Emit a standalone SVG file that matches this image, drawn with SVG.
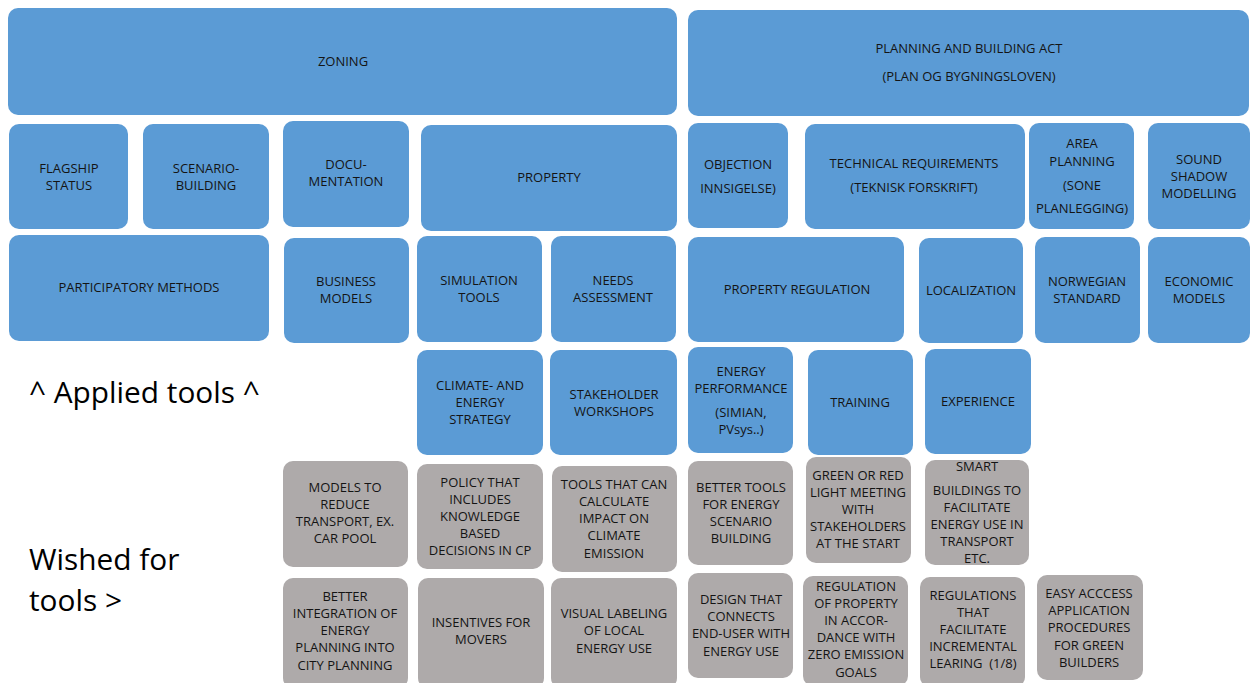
<svg xmlns="http://www.w3.org/2000/svg" width="1250" height="683" viewBox="0 0 1250 683">
<style>
.b{fill:#5B9BD5}
.g{fill:#AEAAAA}
.t{font-family:"Open Sans","Liberation Sans",sans-serif;font-size:13px;fill:#141414;text-anchor:middle}
.big{font-family:"Open Sans","Liberation Sans",sans-serif;font-size:29.8px;fill:#000}
</style>
<rect width="1250" height="683" fill="#fff"/>
<g id="connectors"></g>
<g id="zoning"><rect class="b" x="8" y="8" width="669" height="107" rx="10"/><text class="t" x="343" y="66">ZONING</text></g>
<g id="pba"><rect class="b" x="688" y="10" width="561" height="106" rx="10"/><text class="t" x="969" y="53">PLANNING AND BUILDING ACT</text><text class="t" x="969" y="81">(PLAN OG BYGNINGSLOVEN)</text></g>
<g id="flagship"><rect class="b" x="9" y="124" width="119" height="105" rx="10"/><text class="t" x="69" y="173">FLAGSHIP</text><text class="t" x="69" y="190">STATUS</text></g>
<g id="scenario"><rect class="b" x="143" y="124" width="126" height="105" rx="10"/><text class="t" x="206" y="173">SCENARIO-</text><text class="t" x="206" y="190">BUILDING</text></g>
<g id="docu"><rect class="b" x="283" y="121" width="126" height="106" rx="10"/><text class="t" x="346" y="169">DOCU-</text><text class="t" x="346" y="186">MENTATION</text></g>
<g id="property"><rect class="b" x="421" y="125" width="256" height="106" rx="10"/><text class="t" x="549" y="182">PROPERTY</text></g>
<g id="objection"><rect class="b" x="688" y="123" width="100" height="105" rx="10"/><text class="t" x="738" y="169">OBJECTION</text><text class="t" x="738" y="193">INNSIGELSE)</text></g>
<g id="technical"><rect class="b" x="805" y="124" width="220" height="105" rx="10"/><text class="t" x="914" y="168">TECHNICAL REQUIREMENTS</text><text class="t" x="914" y="192">(TEKNISK FORSKRIFT)</text></g>
<g id="area"><rect class="b" x="1029" y="123" width="105" height="106" rx="10"/><text class="t" x="1082" y="148">AREA</text><text class="t" x="1082" y="166">PLANNING</text><text class="t" x="1082" y="190">(SONE</text><text class="t" x="1082" y="213">PLANLEGGING)</text></g>
<g id="sound"><rect class="b" x="1148" y="123" width="102" height="106" rx="10"/><text class="t" x="1199" y="164">SOUND</text><text class="t" x="1199" y="181">SHADOW</text><text class="t" x="1199" y="198">MODELLING</text></g>
<g id="participatory"><rect class="b" x="9" y="235" width="260" height="106" rx="10"/><text class="t" x="139" y="292">PARTICIPATORY METHODS</text></g>
<g id="business"><rect class="b" x="284" y="238" width="125" height="105" rx="10"/><text class="t" x="346" y="286">BUSINESS</text><text class="t" x="346" y="303">MODELS</text></g>
<g id="simulation"><rect class="b" x="417" y="236" width="125" height="106" rx="10"/><text class="t" x="479" y="285">SIMULATION</text><text class="t" x="479" y="302">TOOLS</text></g>
<g id="needs"><rect class="b" x="551" y="236" width="125" height="106" rx="10"/><text class="t" x="613" y="285">NEEDS</text><text class="t" x="613" y="302">ASSESSMENT</text></g>
<g id="propreg"><rect class="b" x="688" y="237" width="216" height="105" rx="10"/><text class="t" x="797" y="294">PROPERTY REGULATION</text></g>
<g id="localization"><rect class="b" x="919" y="238" width="104" height="105" rx="10"/><text class="t" x="971" y="295">LOCALIZATION</text></g>
<g id="norwegian"><rect class="b" x="1035" y="237" width="105" height="106" rx="10"/><text class="t" x="1087" y="286">NORWEGIAN</text><text class="t" x="1087" y="303">STANDARD</text></g>
<g id="economic"><rect class="b" x="1148" y="237" width="102" height="106" rx="10"/><text class="t" x="1199" y="286">ECONOMIC</text><text class="t" x="1199" y="303">MODELS</text></g>
<g id="climate"><rect class="b" x="417" y="350" width="126" height="105" rx="10"/><text class="t" x="480" y="390">CLIMATE- AND</text><text class="t" x="480" y="407">ENERGY</text><text class="t" x="480" y="424">STRATEGY</text></g>
<g id="stakeholder"><rect class="b" x="550" y="350" width="127" height="105" rx="10"/><text class="t" x="614" y="399">STAKEHOLDER</text><text class="t" x="614" y="416">WORKSHOPS</text></g>
<g id="energyperf"><rect class="b" x="688" y="347" width="105" height="106" rx="10"/><text class="t" x="741" y="376">ENERGY</text><text class="t" x="741" y="393">PERFORMANCE</text><text class="t" x="741" y="417">(SIMIAN,</text><text class="t" x="741" y="434">PVsys..)</text></g>
<g id="training"><rect class="b" x="808" y="350" width="105" height="105" rx="10"/><text class="t" x="860" y="407">TRAINING</text></g>
<g id="experience"><rect class="b" x="925" y="349" width="106" height="105" rx="10"/><text class="t" x="978" y="406">EXPERIENCE</text></g>
<g id="models"><rect class="g" x="283" y="461" width="125" height="106" rx="10"/><text class="t" x="345" y="492">MODELS TO</text><text class="t" x="345" y="509">REDUCE</text><text class="t" x="345" y="526">TRANSPORT, EX.</text><text class="t" x="345" y="543">CAR POOL</text></g>
<g id="policy"><rect class="g" x="417" y="464" width="126" height="105" rx="10"/><text class="t" x="480" y="487">POLICY THAT</text><text class="t" x="480" y="504">INCLUDES</text><text class="t" x="480" y="521">KNOWLEDGE</text><text class="t" x="480" y="538">BASED</text><text class="t" x="480" y="555">DECISIONS IN CP</text></g>
<g id="toolscan"><rect class="g" x="552" y="466" width="125" height="106" rx="10"/><text class="t" x="614" y="489">TOOLS THAT CAN</text><text class="t" x="614" y="506">CALCULATE</text><text class="t" x="614" y="523">IMPACT ON</text><text class="t" x="614" y="540">CLIMATE</text><text class="t" x="614" y="558">EMISSION</text></g>
<g id="bettertools"><rect class="g" x="688" y="461" width="105" height="104" rx="10"/><text class="t" x="741" y="492">BETTER TOOLS</text><text class="t" x="741" y="509">FOR ENERGY</text><text class="t" x="741" y="526">SCENARIO</text><text class="t" x="741" y="543">BUILDING</text></g>
<g id="greenred"><rect class="g" x="806" y="457" width="105" height="106" rx="10"/><text class="t" x="858" y="480">GREEN OR RED</text><text class="t" x="858" y="497">LIGHT MEETING</text><text class="t" x="858" y="514">WITH</text><text class="t" x="858" y="531">STAKEHOLDERS</text><text class="t" x="858" y="548">AT THE START</text></g>
<g id="smart"><rect class="g" x="925" y="460" width="104" height="105" rx="10"/><text class="t" x="977" y="471">SMART</text><text class="t" x="977" y="495">BUILDINGS TO</text><text class="t" x="977" y="512">FACILITATE</text><text class="t" x="977" y="529">ENERGY USE IN</text><text class="t" x="977" y="546">TRANSPORT</text><text class="t" x="977" y="563">ETC.</text></g>
<g id="betterintegration"><rect class="g" x="283" y="578" width="125" height="110" rx="10"/><text class="t" x="345" y="601">BETTER</text><text class="t" x="345" y="618">INTEGRATION OF</text><text class="t" x="345" y="635">ENERGY</text><text class="t" x="345" y="652">PLANNING INTO</text><text class="t" x="345" y="670">CITY PLANNING</text></g>
<g id="insentives"><rect class="g" x="418" y="578" width="126" height="110" rx="10"/><text class="t" x="481" y="627">INSENTIVES FOR</text><text class="t" x="481" y="644">MOVERS</text></g>
<g id="visual"><rect class="g" x="551" y="578" width="126" height="110" rx="10"/><text class="t" x="614" y="618">VISUAL LABELING</text><text class="t" x="614" y="635">OF LOCAL</text><text class="t" x="614" y="653">ENERGY USE</text></g>
<g id="design"><rect class="g" x="688" y="573" width="105" height="105" rx="10"/><text class="t" x="741" y="604">DESIGN THAT</text><text class="t" x="741" y="621">CONNECTS</text><text class="t" x="741" y="638">END-USER WITH</text><text class="t" x="741" y="656">ENERGY USE</text></g>
<g id="regprop"><rect class="g" x="803" y="576" width="105" height="110" rx="10"/><text class="t" x="856" y="591">REGULATION</text><text class="t" x="856" y="608">OF PROPERTY</text><text class="t" x="856" y="625">IN ACCOR-</text><text class="t" x="856" y="642">DANCE WITH</text><text class="t" x="856" y="659">ZERO EMISSION</text><text class="t" x="856" y="677">GOALS</text></g>
<g id="regulations"><rect class="g" x="920" y="577" width="105" height="110" rx="10"/><text class="t" x="973" y="600">REGULATIONS</text><text class="t" x="973" y="617">THAT</text><text class="t" x="973" y="634">FACILITATE</text><text class="t" x="973" y="651">INCREMENTAL</text><text class="t" x="973" y="668" xml:space="preserve">LEARING  (1/8)</text></g>
<g id="easy"><rect class="g" x="1037" y="575" width="106" height="105" rx="10"/><text class="t" x="1089" y="598">EASY ACCCESS</text><text class="t" x="1089" y="615">APPLICATION</text><text class="t" x="1089" y="632">PROCEDURES</text><text class="t" x="1089" y="650">FOR GREEN</text><text class="t" x="1089" y="667">BUILDERS</text></g>
<g id="labels"><text class="big" x="29" y="403">^ Applied tools ^</text><text class="big" x="29" y="570">Wished for</text><text class="big" x="29" y="611">tools &gt;</text></g>
</svg>
